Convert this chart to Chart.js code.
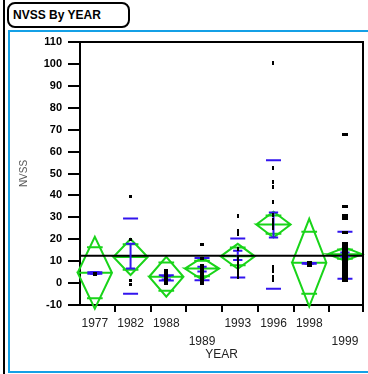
<!DOCTYPE html>
<html>
<head>
<meta charset="utf-8">
<title>NVSS By YEAR</title>
<script src="https://cdn.jsdelivr.net/npm/chart.js@4.4.1/dist/chart.umd.min.js"></script>
<style>
  html, body { margin: 0; padding: 0; width: 368px; height: 374px; overflow: hidden; background: #fff; }
  #rule { position: absolute; left: 3px; top: 0; width: 2px; height: 374px; background: #000; }
  #frame { position: absolute; left: 8px; top: 30px; width: 420px; height: 339px; border: 2px solid #14a0e6; border-right: none; }
  #heading { position: absolute; left: 7px; top: 2px; width: 115px; height: 22px; padding-left: 4px;
             border: 2px solid #000; border-radius: 8px; font: bold 12px "Liberation Sans", Arial, sans-serif;
             line-height: 22px; color: #000; white-space: nowrap; }
  #plot { position: absolute; left: 0; top: 0; }
</style>
</head>
<body>
<div id="rule"></div>
<div id="frame"></div>
<div id="heading">NVSS By YEAR</div>
<canvas id="plot" width="368" height="374"></canvas>
<script>
// ---- data ----
const years = ['1977', '1982', '1988', '1989', '1993', '1996', '1998', '1999'];
const labelRow = [0, 0, 0, 1, 0, 0, 0, 1];           // staggered second line for crowded labels
const nvssTicks = [-10, 0, 10, 20, 30, 40, 50, 60, 70, 80, 90, 100, 110];

const groupMeans  = [4.7, 11.9, 2.9, 6.6, 12.2, 26.7, 9.3, 13.2];
const ciHalfWidth = [16.4, 8.2, 9.1, 5.0, 5.7, 5.9, 20.0, 3.0];
const sdUpper  = [4.9, 29.5, 3.6, 11.5, 20.3, 56.0, 9.2, 23.4];
const sdLower  = [4.3, -4.9, 1.2, 1.3, 2.6, -2.6, 8.8, 2.0];
const errUpper = [4.9, 18.0, 3.2, 7.5, 14.8, 32.2, 9.2, 14.0];
const errLower = [4.3, 6.6, 1.6, 5.3, 10.5, 20.8, 8.8, 12.0];
const grandMean = 12.5;

const nvss1977 = [3.7, 4.4];
const nvss1982 = [39.6, 20.0, 1.0, -0.5];
const nvss1988 = [0, 1, 2, 3, 4, 5, 5.6];
const nvss1989 = [17.8, 11.2, 8, 7, 6, 5, 4, 3, 2, 1, 0];
const nvss1993 = [30.4, 23.9, 22.3, 15.4, 12, 10.2, 8.4, 6.6, 4.8, 3];
const nvss1996 = [100.3, 52.6, 45.9, 44.0, 36.8, 31, 29, 27, 25.3, 7.3, 5.7, 2.6, 1.2];
const nvss1998 = [8.4, 9.0];
const nvss1999 = [68, 35, 31, 29.5, 23, 18, 17, 16, 15, 14, 13, 12, 11, 10, 9, 8, 7, 6, 5, 4, 3, 2, 1];
const groupValues = [nvss1977, nvss1982, nvss1988, nvss1989, nvss1993, nvss1996, nvss1998, nvss1999];

// ---- drawing geometry (in category units) ----
const X_MIN = 0.585, X_MAX = 8.505;
const DIAMOND_HALF = 0.48, OVERLAP_HALF = 0.22, SD_HALF = 0.21, CAP_HALF = 0.13;
const BOUNDARY_OFFSET = 0.56;
const GREEN = '#19d419', BLUE = '#3214ee';
const FONT = '"Liberation Sans", Arial, sans-serif';
Chart.defaults.font.family = FONT;

const cat = i => i + 1;
const gap = i => ({ x: cat(i), y: null });

const diamondPts = [], overlapPts = [], sdPts = [], errPts = [], valuePts = [];
years.forEach((_, i) => {
  const c = cat(i), m = groupMeans[i], h = ciHalfWidth[i];
  // outline then the mean line across the middle
  diamondPts.push({ x: c - DIAMOND_HALF, y: m }, { x: c, y: m + h }, { x: c + DIAMOND_HALF, y: m },
                  { x: c, y: m - h }, { x: c - DIAMOND_HALF, y: m }, { x: c + DIAMOND_HALF, y: m }, gap(i));
  const o = h / Math.SQRT2;
  overlapPts.push({ x: c - OVERLAP_HALF, y: m + o }, { x: c + OVERLAP_HALF, y: m + o }, gap(i),
                  { x: c - OVERLAP_HALF, y: m - o }, { x: c + OVERLAP_HALF, y: m - o }, gap(i));
  sdPts.push({ x: c - SD_HALF, y: sdUpper[i] }, { x: c + SD_HALF, y: sdUpper[i] }, gap(i),
             { x: c - SD_HALF, y: sdLower[i] }, { x: c + SD_HALF, y: sdLower[i] }, gap(i));
  errPts.push({ x: c - CAP_HALF, y: errUpper[i] }, { x: c + CAP_HALF, y: errUpper[i] }, gap(i),
              { x: c, y: errUpper[i] }, { x: c, y: errLower[i] }, gap(i),
              { x: c - CAP_HALF, y: errLower[i] }, { x: c + CAP_HALF, y: errLower[i] }, gap(i));
  groupValues[i].forEach(v => valuePts.push({ x: c, y: v, g: i }));
});

// small filled rectangles used as point markers, one size per group
const markerSizes = [[4, 3], [3, 3], [4, 3], [4, 3], [2, 4], [2, 4], [5, 4], [6, 3]];
const markers = markerSizes.map(([w, h]) => {
  const m = document.createElement('canvas');
  m.width = w; m.height = h;
  const g = m.getContext('2d');
  g.fillStyle = '#000'; g.fillRect(0, 0, w, h);
  return m;
});

const xTickValues = [];
years.forEach((_, i) => {
  xTickValues.push(cat(i));
  if (i < years.length - 1) xTickValues.push(cat(i) + BOUNDARY_OFFSET);
});
const isBoundary = v => Math.abs(v - Math.round(v)) > 1e-6;

const segLine = (data, color, order) => ({
  type: 'scatter', data, showLine: true, spanGaps: false, pointRadius: 0, pointHoverRadius: 0,
  borderColor: color, borderWidth: 2, borderJoinStyle: 'miter', borderCapStyle: 'butt', order, clip: false
});

// top and right edges of the plot box
const plotFrame = {
  id: 'plotFrame',
  afterDraw(chart) {
    const { ctx, chartArea: a } = chart;
    ctx.save();
    ctx.strokeStyle = '#000'; ctx.lineWidth = 2;
    ctx.beginPath();
    ctx.moveTo(a.left - 1, a.top);
    ctx.lineTo(a.right, a.top);
    ctx.lineTo(a.right, a.bottom + 7);
    ctx.stroke();
    ctx.restore();
  }
};

new Chart(document.getElementById('plot'), {
  type: 'scatter',
  data: {
    datasets: [
      { data: valuePts, order: 0, pointRadius: 2, pointHoverRadius: 2, clip: false,
        pointStyle: ctx => markers[ctx.raw ? ctx.raw.g : 0], backgroundColor: '#000', borderWidth: 0 },
      segLine(sdPts, BLUE, 1),
      segLine(errPts, BLUE, 1),
      segLine([{ x: X_MIN, y: grandMean }, { x: X_MAX, y: grandMean }], '#000', 2),
      segLine(overlapPts, GREEN, 3),
      segLine(diamondPts, GREEN, 4)
    ]
  },
  options: {
    responsive: false,
    animation: false,
    events: [],
    layout: { padding: { left: 0, top: 42, right: 5, bottom: 0 } },
    plugins: { legend: { display: false }, tooltip: { enabled: false } },
    scales: {
      x: {
        type: 'linear', min: X_MIN, max: X_MAX,
        afterBuildTicks: s => { s.ticks = xTickValues.map(v => ({ value: v })); },
        afterFit: s => { s.height = 69; },
        ticks: {
          autoSkip: false, maxRotation: 0, padding: 3, color: '#222',
          font: { size: 12, lineHeight: '18px' },
          callback: v => {
            if (isBoundary(v)) return '';
            const i = Math.round(v) - 1;
            return labelRow[i] ? ['', years[i]] : years[i];
          }
        },
        grid: {
          drawOnChartArea: false, drawTicks: true, tickLength: 7, lineWidth: 2,
          color: ctx => (ctx.tick && isBoundary(ctx.tick.value)) ? '#000' : 'rgba(0,0,0,0)'
        },
        border: { display: true, color: '#000', width: 2 },
        title: { display: true, text: 'YEAR', color: '#222', font: { size: 12 }, padding: { top: 0, bottom: 12 } }
      },
      y: {
        type: 'linear', min: -10, max: 110,
        afterBuildTicks: s => { s.ticks = nvssTicks.map(v => ({ value: v })); },
        afterFit: s => { s.width = 80; },
        ticks: { padding: 6, color: '#000', font: { size: 11, weight: 'bold' } },
        grid: { drawOnChartArea: false, drawTicks: true, tickLength: 12, lineWidth: 2, color: '#000' },
        border: { display: true, color: '#000', width: 2 },
        title: { display: true, text: 'NVSS', color: '#555', font: { size: 10 }, padding: { top: 18, bottom: 0 } }
      }
    }
  },
  plugins: [plotFrame]
});
</script>
</body>
</html>
